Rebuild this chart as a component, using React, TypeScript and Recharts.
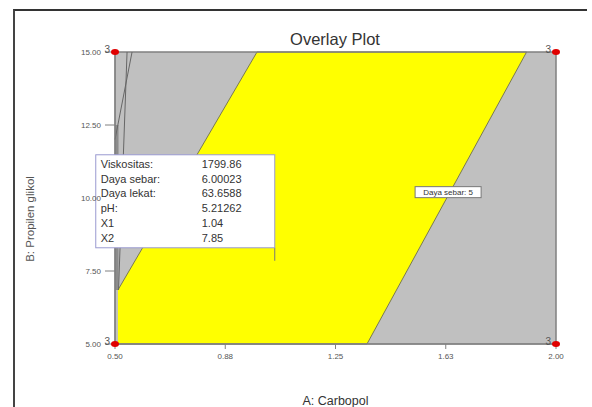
import {
  ComposedChart,
  Area,
  Line,
  Scatter,
  XAxis,
  YAxis,
  CartesianGrid,
  ReferenceArea,
} from "recharts";

// A: Carbopol (x), B: Propilen glikol (y)
const xTicks = [0.5, 0.875, 1.25, 1.625, 2.0];
const yTicks = [5, 7.5, 10, 12.5, 15];

// yellow design space, [lower, upper] B for each A breakpoint
const feasibleA = [0.51, 0.983, 1.357, 1.9];
const feasibleB: [number, number][] = [
  [5, 6.85],
  [5, 15],
  [5, 15],
  [15, 15],
];

// thin darker strip along the left edge
const stripA = [0.5, 0.512];
const stripB: [number, number][] = [
  [6.85, 12.5],
  [6.85, 12.5],
];

// contour lines at the far left
const contour1 = [
  { x: 0.558, y: 15 },
  { x: 0.5, y: 12.0 },
];
const contour2 = [
  { x: 0.541, y: 15 },
  { x: 0.512, y: 6.85 },
];

const corners = [
  { x: 0.5, y: 15 },
  { x: 2.0, y: 15 },
  { x: 0.5, y: 5 },
  { x: 2.0, y: 5 },
];

const flagPoint = [{ x: 1.04, y: 7.85 }];
const flagLabels = ["Viskositas:", "Daya sebar:", "Daya lekat:", "pH:", "X1", "X2"];
const flagValues = ["1799.86", "6.00023", "63.6588", "5.21262", "1.04", "7.85"];

const contourLabelPoint = [{ x: 1.633, y: 10.2 }];
const contourLabel = "Daya sebar: 5";

const feasible = feasibleA.map((a, i) => ({ x: a, range: feasibleB[i] }));
const strip = stripA.map((a, i) => ({ x: a, range: stripB[i] }));

const font = "'Liberation Sans', Arial, sans-serif";

const CornerDot = (p: any) => (
  <g>
    <ellipse cx={p.cx} cy={p.cy} rx={4} ry={3} fill="#e00000" />
    <text x={p.cx - 5} y={p.cy + 1} textAnchor="end" fontSize={10} fill="#555" fontFamily={font}>
      3
    </text>
  </g>
);

const Flag = (p: any) => {
  const w = 179;
  const h = 93;
  const left = p.cx + 1 - w;
  const top = p.cy - 13 - h;
  return (
    <g>
      <line x1={p.cx + 1} y1={top + h} x2={p.cx + 1} y2={p.cy} stroke="#777" />
      <rect x={left} y={top} width={w} height={h} fill="#fff" stroke="#9a9ad0" />
      {flagLabels.map((l, i) => (
        <g key={l}>
          <text x={left + 5} y={top + 13 + i * 14.8} fontSize={11} fill="#333" fontFamily={font}>
            {l}
          </text>
          <text x={left + 106} y={top + 13 + i * 14.8} fontSize={11} fill="#333" fontFamily={font}>
            {flagValues[i]}
          </text>
        </g>
      ))}
    </g>
  );
};

const ContourTag = (p: any) => (
  <g>
    <rect x={p.cx - 33} y={p.cy - 5.5} width={66} height={11} fill="#fff" stroke="#777" />
    <text x={p.cx} y={p.cy + 3} textAnchor="middle" fontSize={8} fill="#333" fontFamily={font}>
      {contourLabel}
    </text>
  </g>
);

export default function App() {
  return (
    <div
      style={{
        position: "absolute",
        left: 0,
        top: 0,
        width: 592,
        height: 407,
        background: "#fff",
        fontFamily: font,
      }}
    >
      <div
        style={{
          position: "absolute",
          left: 13,
          top: 9,
          width: 572,
          height: 398,
          borderTop: "2px solid #333",
          borderLeft: "2px solid #444",
        }}
      />
      <div
        style={{
          position: "absolute",
          left: 235,
          top: 30,
          width: 200,
          textAlign: "center",
          fontSize: 16.5,
          color: "#333",
        }}
      >
        Overlay Plot
      </div>
      <ComposedChart
        width={592}
        height={407}
        margin={{ top: 52, right: 36, left: 0, bottom: 0 }}
        style={{ position: "absolute", left: 0, top: 0 }}
      >
        <CartesianGrid horizontal={false} vertical={false} fill="#c0c0c0" />
        <XAxis
          type="number"
          dataKey="x"
          domain={[0.5, 2]}
          ticks={xTicks}
          tickFormatter={(v: number) => v.toFixed(2)}
          height={63}
          tickSize={5}
          tickMargin={4}
          stroke="#808080"
          tick={{ fontSize: 8, fill: "#555", fontFamily: font }}
          label={{
            value: "A: Carbopol",
            position: "insideBottom",
            offset: 2,
            fontSize: 12.5,
            fill: "#333",
            fontFamily: font,
          }}
        />
        <YAxis
          type="number"
          dataKey="y"
          domain={[5, 15]}
          ticks={yTicks}
          tickFormatter={(v: number) => v.toFixed(2)}
          width={115}
          tickSize={10}
          tickMargin={4}
          stroke="#808080"
          tick={{ fontSize: 8, fill: "#555", fontFamily: font }}
          label={{
            content: () => (
              <text
                transform="translate(34,219) rotate(-90)"
                textAnchor="middle"
                fontSize={11.5}
                fill="#555"
                fontFamily={font}
              >
                B: Propilen glikol
              </text>
            ),
          }}
        />
        <Area
          data={strip}
          dataKey="range"
          type="linear"
          fill="#8c8c8c"
          fillOpacity={1}
          stroke="none"
          isAnimationActive={false}
        />
        <Area
          data={feasible}
          dataKey="range"
          type="linear"
          fill="#ffff00"
          fillOpacity={1}
          stroke="#7a7a50"
          strokeWidth={1}
          isAnimationActive={false}
        />
        <Line data={contour1} dataKey="y" type="linear" stroke="#666" dot={false} isAnimationActive={false} />
        <Line data={contour2} dataKey="y" type="linear" stroke="#666" dot={false} isAnimationActive={false} />
        <ReferenceArea x1={0.5} x2={2} y1={5} y2={15} fill="none" stroke="#808080" strokeWidth={1.5} />
        <Scatter data={contourLabelPoint} dataKey="y" shape={ContourTag} isAnimationActive={false} />
        <Scatter data={flagPoint} dataKey="y" shape={Flag} isAnimationActive={false} />
        <Scatter data={corners} dataKey="y" shape={CornerDot} isAnimationActive={false} />
      </ComposedChart>
    </div>
  );
}
